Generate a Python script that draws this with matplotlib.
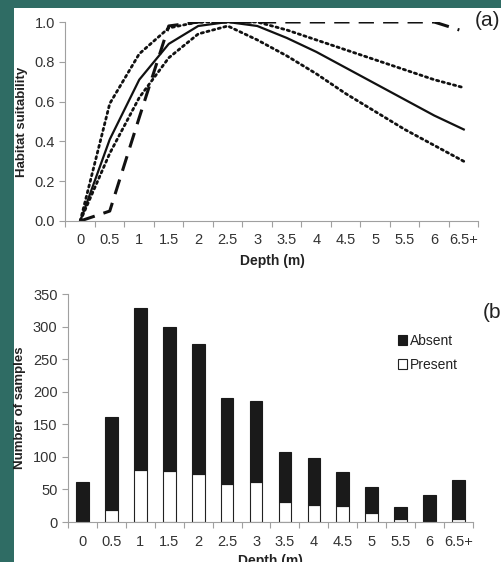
import matplotlib
matplotlib.use("Agg")
import matplotlib.pyplot as plt
from matplotlib.patches import Rectangle
import numpy as np

plt.rcParams["font.family"] = ["Liberation Sans", "DejaVu Sans"]

categories = ["0", "0.5", "1", "1.5", "2", "2.5", "3", "3.5", "4", "4.5", "5", "5.5", "6", "6.5+"]

# Panel (a): habitat suitability curves
hs_mean = [0.0, 0.41, 0.71, 0.89, 0.98, 1.0, 0.98, 0.92, 0.85, 0.77, 0.69, 0.61, 0.53, 0.46]
hs_upper = [0.0, 0.59, 0.84, 0.97, 1.0, 1.0, 1.0, 0.96, 0.91, 0.86, 0.81, 0.76, 0.71, 0.67]
hs_lower = [0.0, 0.34, 0.62, 0.82, 0.94, 0.98, 0.91, 0.83, 0.74, 0.64, 0.55, 0.46, 0.38, 0.30]
hs_dashed = [0.0, 0.05, 0.52, 0.98, 1.0, 1.0, 1.0, 1.0, 1.0, 1.0, 1.0, 1.0, 1.0, 0.96]

# Panel (b): number of samples
present = [0, 19, 80, 79, 74, 59, 61, 30, 26, 25, 14, 4, 2, 4]
total = [62, 161, 328, 299, 274, 191, 185, 107, 98, 77, 53, 23, 41, 65]
absent = [t - p for t, p in zip(total, present)]

W, H = 502, 562
fig = plt.figure(figsize=(W / 100, H / 100), dpi=100)
fig.patch.set_facecolor("#2f6c64")
fig.add_artist(Rectangle((14 / W, 0), 1 - 14 / W, (H - 8) / H, transform=fig.transFigure,
                         facecolor="white", edgecolor="none", zorder=0))

tick_col = "#333333"
spine_col = "#a0a0a0"
x = np.arange(len(categories))

def style_axes(ax):
    for s in ["top", "right"]:
        ax.spines[s].set_visible(False)
    for s in ["left", "bottom"]:
        ax.spines[s].set_color(spine_col)
        ax.spines[s].set_linewidth(0.8)
    ax.set_xlim(-0.5, len(categories) - 0.5)
    ax.set_xticks(x)
    ax.set_xticklabels(categories)
    ax.set_xticks(np.arange(-0.5, len(categories), 1.0), minor=True)
    ax.tick_params(axis="x", which="major", length=0, labelsize=10.5, labelcolor=tick_col, pad=9)
    ax.tick_params(axis="x", which="minor", length=4, color=spine_col, width=0.8)
    ax.tick_params(axis="y", which="major", length=4, color=spine_col, width=0.8,
                   labelsize=10.5, labelcolor=tick_col)

# Top panel
ax1 = fig.add_axes([65.5 / W, (H - 221) / H, 413 / W, 199 / H])
ax1.patch.set_alpha(0)
style_axes(ax1)
ax1.plot(x, hs_upper, color="#111111", lw=2.0, linestyle=(0, (0.8, 1.3)), dash_capstyle="round")
ax1.plot(x, hs_lower, color="#111111", lw=2.0, linestyle=(0, (0.8, 1.3)), dash_capstyle="round")
ax1.plot(x[:-1], hs_dashed[:-1], color="#111111", lw=2.2, linestyle=(0, (5, 3)))
ax1.plot([x[-2], x[-1] - 0.15], [hs_dashed[-2], hs_dashed[-1]], color="#111111", lw=2.2,
         linestyle=(0, (5, 3)))
ax1.plot(x, hs_mean, color="#111111", lw=1.6)
ax1.set_ylim(0, 1.0)
ax1.set_yticks([0, 0.2, 0.4, 0.6, 0.8, 1.0])
ax1.set_yticklabels(["0.0", "0.2", "0.4", "0.6", "0.8", "1.0"])
ax1.set_ylabel("Habitat suitability", fontsize=9.5, fontweight="bold", color="#222222", labelpad=5)
ax1.set_xlabel("Depth (m)", fontsize=10, fontweight="bold", color="#222222", labelpad=5)
fig.text(488 / W, 1 - 20 / H, "(a)", fontsize=15, ha="center", va="center", color="#222222")

# Bottom panel
ax2 = fig.add_axes([68 / W, (H - 522) / H, 405 / W, 228 / H])
ax2.patch.set_alpha(0)
style_axes(ax2)
bw = 0.44
ax2.bar(x, present, width=bw, color="white", edgecolor="#222222", linewidth=0.8, label="Present")
ax2.bar(x, absent, width=bw, bottom=present, color="#1a1a1a", edgecolor="#1a1a1a",
        linewidth=0.8, label="Absent")
ax2.set_ylim(0, 350)
ax2.set_yticks(np.arange(0, 351, 50))
ax2.set_ylabel("Number of samples", fontsize=9.5, fontweight="bold", color="#222222", labelpad=5)
ax2.set_xlabel("Depth (m)", fontsize=10, fontweight="bold", color="#222222", labelpad=4)
h, l = ax2.get_legend_handles_labels()
leg = ax2.legend([h[1], h[0]], [l[1], l[0]], loc="upper left", bbox_to_anchor=(0.80, 0.85),
                 frameon=False, fontsize=10, handlelength=0.7, handleheight=0.7,
                 handletextpad=0.2, labelspacing=0.75, borderaxespad=0)
for t in leg.get_texts():
    t.set_color("#222222")
fig.text(492 / W, 1 - 312 / H, "(b", fontsize=15, ha="center", va="center", color="#222222")

fig.savefig("out.png", dpi=100, facecolor=fig.get_facecolor())
